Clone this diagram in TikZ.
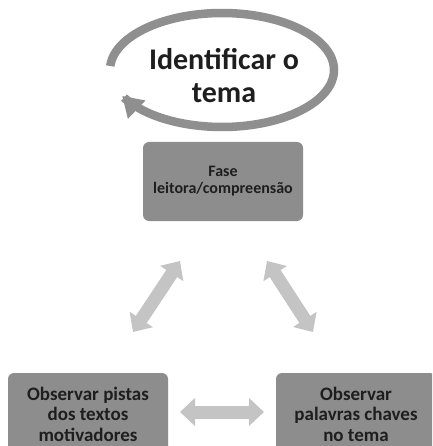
\documentclass[tikz,border=0pt]{standalone}
\usepackage{fontspec}
\setmainfont{Carlito}
\usetikzlibrary{arrows.meta}
\definecolor{boxgray}{RGB}{141,141,141}
\definecolor{arcgray}{RGB}{143,143,143}
\definecolor{arrgray}{RGB}{196,196,196}
\definecolor{txt}{RGB}{30,30,30}
\tikzset{
  stepbox/.style={draw=none, fill=boxgray, rounded corners=6pt, minimum width=160pt,
    align=center, text=txt, inner sep=0pt},
  dblarrow/.style={draw=arrgray, line width=13pt,
    {Triangle[length=15pt,width=27pt]}-{Triangle[length=15pt,width=27pt]}}
}
\begin{document}
\begin{tikzpicture}[x=1pt,y=-1pt]
\useasboundingbox (0,0) rectangle (432,446);
\clip (0,0) rectangle (432,446);
\fill[white] (0,0) rectangle (432,446);
% cycle arrow
\draw[arcgray, line width=8.5pt, -{Triangle[length=20pt,width=24pt]}]
  plot[domain=184:513, samples=160] ({222+112*cos(\x)}, {70+57*sin(\x)});
\node[text=txt, font=\fontsize{30}{33}\bfseries\selectfont, align=center] (title) at (224,76) {Identificar o\\tema};
% boxes
\node[stepbox, minimum height=79pt, font=\fontsize{16}{17}\bfseries\selectfont] (fase) at (223,181.5) {Fase\\leitora/compreensão};
\node[stepbox, minimum height=82pt, font=\fontsize{19}{20.5}\bfseries\selectfont] (pistas) at (88,414) {Observar pistas\\dos textos\\motivadores};
\node[stepbox, minimum height=82pt, font=\fontsize{19}{20.5}\bfseries\selectfont] (palavras) at (356,414) {Observar\\palavras chaves\\no tema};
% arrows
\coordinate (l1) at (133,332); \coordinate (l2) at (180,261);
\coordinate (r1) at (267,261); \coordinate (r2) at (313,332);
\coordinate (h1) at (180,412); \coordinate (h2) at (264,412);
\draw[dblarrow] (l1) -- (l2);
\draw[dblarrow] (r1) -- (r2);
\draw[dblarrow] (h1) -- (h2);
\end{tikzpicture}
\end{document}
